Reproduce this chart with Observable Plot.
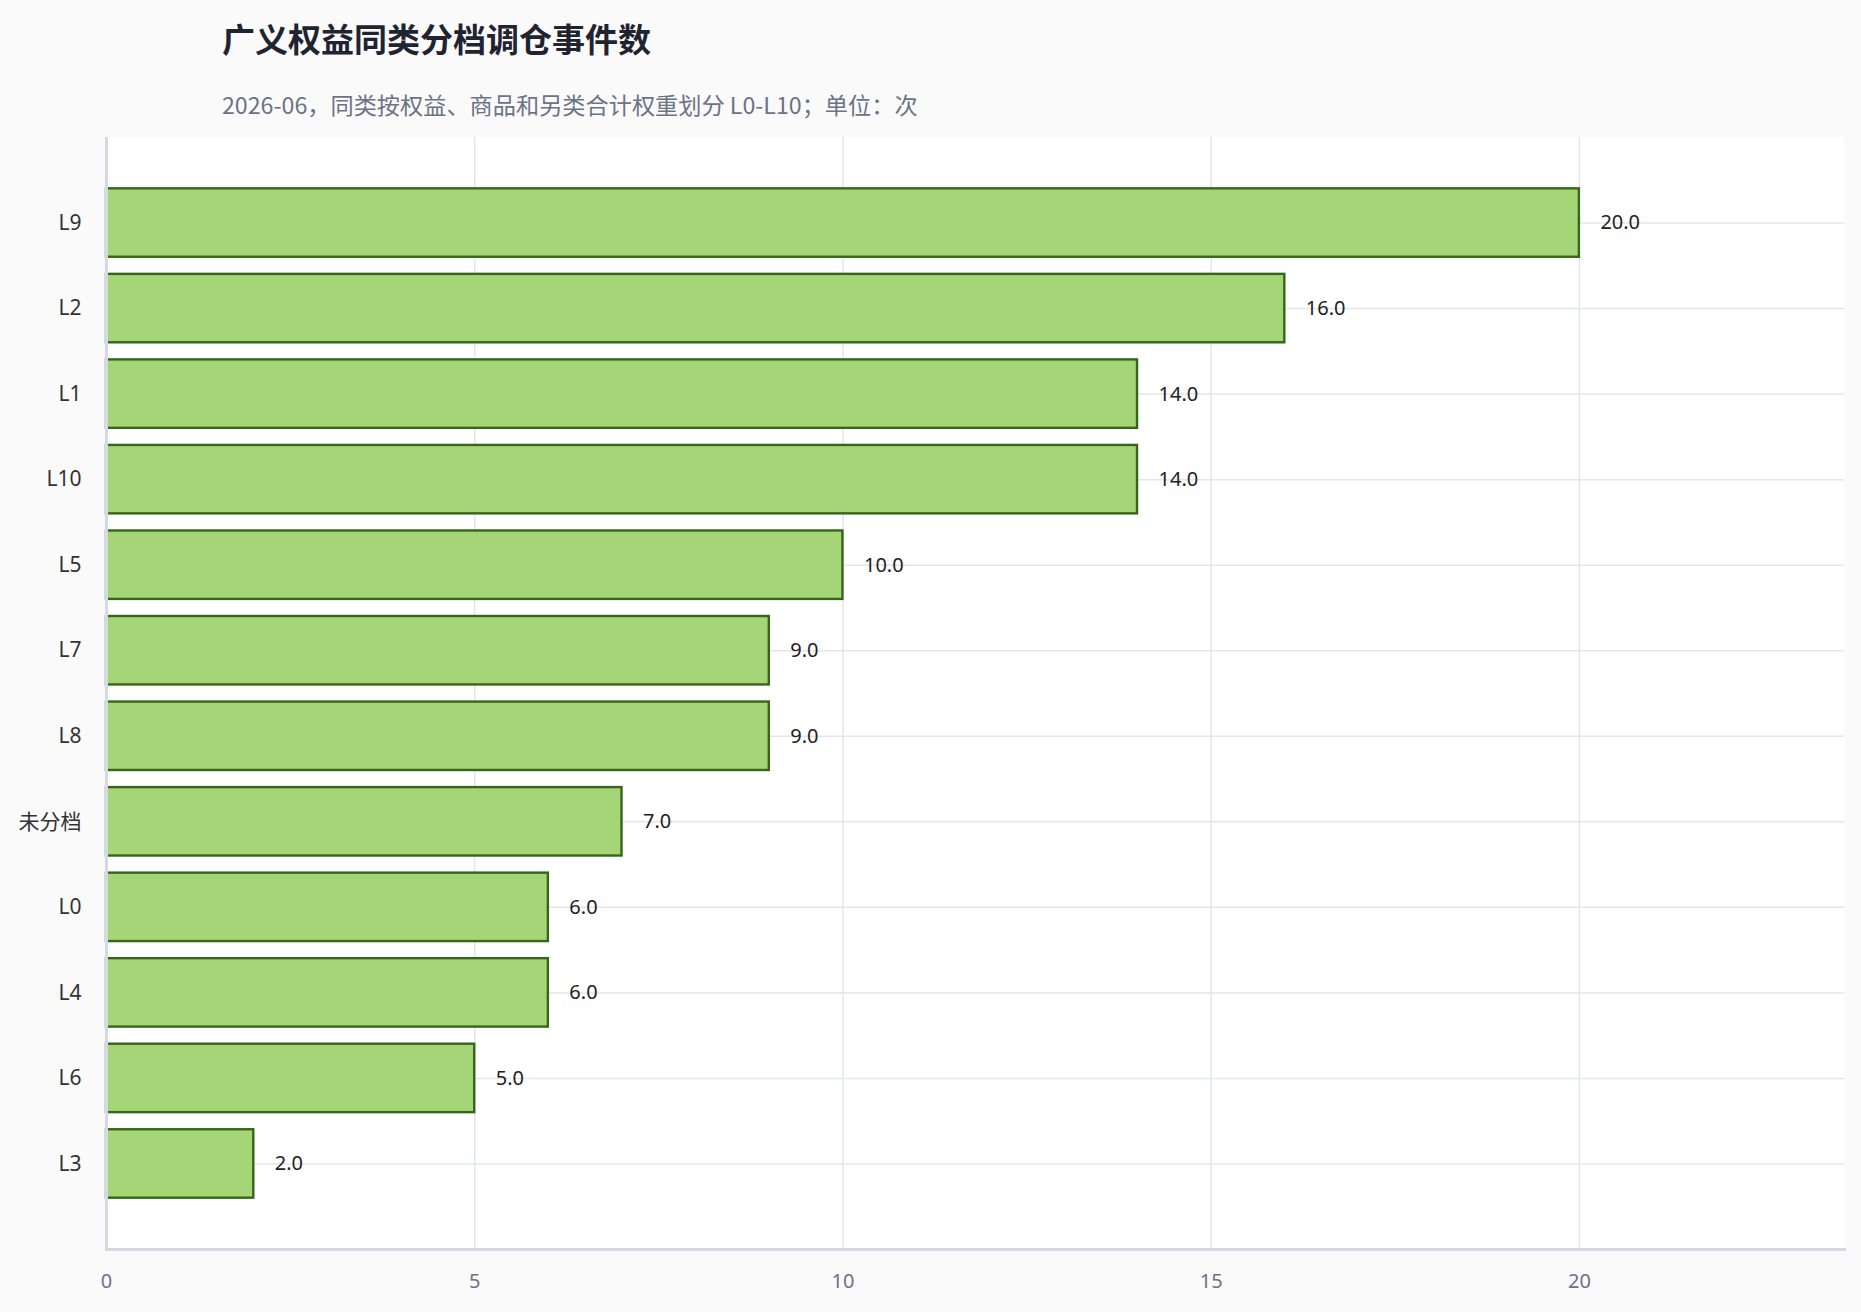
<!DOCTYPE html>
<html>
<head>
<meta charset="utf-8">
<script src="https://cdn.jsdelivr.net/npm/d3@7"></script>
<script src="https://cdn.jsdelivr.net/npm/@observablehq/plot@0.6"></script>
<style>
  html, body { margin: 0; padding: 0; background: #fafafa; }
  body { width: 1861px; height: 1312px; position: relative; overflow: hidden;
         font-family: "Noto Sans", "Noto Sans CJK SC", sans-serif; }
  #title { position: absolute; left: 222px; top: 14px; font-size: 33px; font-weight: 700;
           color: #1f2430; font-family: "Noto Sans CJK SC", sans-serif; line-height: 48px; white-space: nowrap; }
  #subtitle { position: absolute; left: 222px; top: 89px; font-size: 23.2px; color: #6b7386;
              font-family: "Noto Sans CJK SC", sans-serif; line-height: 30px; white-space: nowrap; }
  #chart { position: absolute; left: 0; top: 120px; }
</style>
</head>
<body>
<div id="title">广义权益同类分档调仓事件数</div>
<div id="subtitle">2026-06，同类按权益、商品和另类合计权重划分 L0-L10；单位：次</div>
<div id="chart"></div>
<script>
const categories = ["L9", "L2", "L1", "L10", "L5", "L7", "L8", "未分档", "L0", "L4", "L6", "L3"];
const counts = [20, 16, 14, 14, 10, 9, 9, 7, 6, 6, 5, 2];
const xTicks = [0, 5, 10, 15, 20];

const data = categories.map((c, i) => ({cat: c, value: counts[i]}));
const fmt = d3.format(".1f");

const chart = Plot.plot({
  width: 1861,
  height: 1192,
  marginLeft: 106,
  marginRight: 17,
  marginTop: 17,
  marginBottom: 63,
  style: {background: "transparent", fontFamily: "'Noto Sans', 'Noto Sans CJK SC', sans-serif", fontSize: "20px"},
  x: {domain: [0, 23.6], ticks: xTicks, label: null},
  y: {domain: categories, paddingInner: 0.2, paddingOuter: 0.6, round: false, label: null},
  marks: [
    Plot.frame({fill: "white", stroke: "none"}),
    Plot.gridX({ticks: xTicks.filter(t => t > 0), stroke: "#e3e6ee", strokeOpacity: 1, strokeWidth: 1.5}),
    Plot.gridY({stroke: "#e3e6ee", strokeOpacity: 1, strokeWidth: 1.5}),
    Plot.barX(data, {x: "value", y: "cat", fill: "#a6d577", stroke: "#35661a", strokeWidth: 2.4}),
    Plot.text(data, {x: "value", y: "cat", text: d => fmt(d.value), textAnchor: "start", dx: 21, fontSize: 20, fill: "#222"}),
    Plot.ruleX([0], {stroke: "#d5d9e6", strokeWidth: 3}),
    Plot.frame({anchor: "bottom", stroke: "#d5d9e6", strokeWidth: 3}),
    Plot.axisX({ticks: xTicks, tickSize: 0, tickPadding: 24, fontSize: 20, color: "#6b7386", label: null}),
    Plot.axisY({tickSize: 0, tickPadding: 25, fontSize: 21, color: "#333", label: null})
  ]
});
document.getElementById("chart").appendChild(chart);
</script>
</body>
</html>
